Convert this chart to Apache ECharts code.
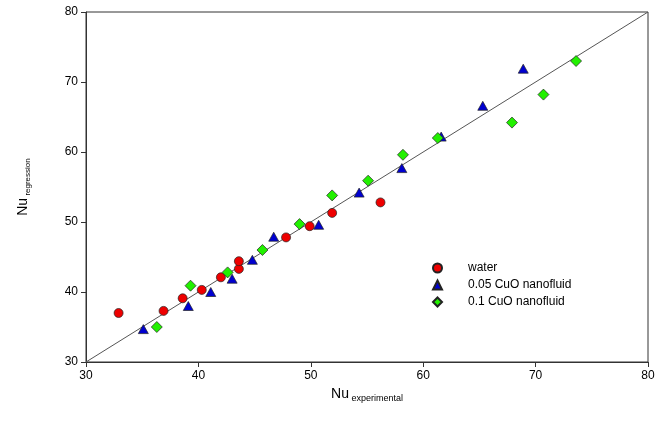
<!DOCTYPE html>
<html><head><meta charset="utf-8">
<script src="https://cdn.jsdelivr.net/npm/echarts@6/dist/echarts.min.js"></script>
<style>html,body{margin:0;padding:0;background:#fff}#c{width:664px;height:425px}</style>
</head><body><div id="c"></div>
<script>
var seriesNames = ['water', '0.05 CuO nanofluid', '0.1 CuO nanofluid'];
var waterData = [[32.9,37.0],[36.9,37.3],[38.6,39.1],[40.3,40.3],[42.0,42.1],[43.6,43.3],[43.6,44.4],[47.8,47.8],[49.9,49.4],[51.9,51.3],[56.2,52.8]];
var cuo005Data = [[35.1,34.7],[39.1,38.0],[41.1,40.0],[43.0,41.9],[44.8,44.6],[46.7,47.9],[50.7,49.6],[54.3,54.2],[58.1,57.7],[61.6,62.2],[65.3,66.6],[68.9,71.9]];
var cuo01Data = [[36.3,35.0],[39.3,40.9],[42.6,42.8],[45.7,46.0],[49.0,49.7],[51.9,53.8],[55.1,55.9],[58.2,59.6],[61.3,62.0],[67.9,64.2],[70.7,68.2],[73.6,73.0]];
var refLine = [[30,30],[80,80]];
var axisMin = 30, axisMax = 80, axisStep = 10;

var chart = echarts.init(document.getElementById('c'));
var font = 'Liberation Sans, Arial, sans-serif';
var axisCommon = {
  min: axisMin, max: axisMax, interval: axisStep,
  nameLocation: 'middle',
  axisLine: {show: true, lineStyle: {color: '#333', width: 1}},
  axisTick: {show: true, inside: false, length: 5, lineStyle: {color: '#333'}},
  axisLabel: {color: '#000', fontSize: 12, fontFamily: font},
  splitLine: {show: false}
};
chart.setOption({
  animation: false,
  backgroundColor: '#fff',
  grid: {left: 86, right: 16, top: 12, bottom: 63, show: true, borderColor: '#333', borderWidth: 1},
  legend: {
    orient: 'vertical', left: 427, top: 257, itemGap: 5, itemWidth: 9, itemHeight: 9,
    textStyle: {fontSize: 12, fontFamily: font, color: '#000', padding: [0,0,0,21]},
    data: seriesNames
  },
  xAxis: Object.assign({}, axisCommon, {
    type: 'value', nameGap: 20,
    name: '{a|Nu}{b| experimental}',
    nameTextStyle: {rich: {
      a: {fontSize: 14, fontFamily: font, color: '#000', lineHeight: 18},
      b: {fontSize: 9, fontFamily: font, color: '#000', padding: [10,0,0,0]}
    }}
  }),
  yAxis: Object.assign({}, axisCommon, {
    type: 'value', nameGap: 54,
    name: '{a|Nu}{b| regression}',
    nameTextStyle: {rich: {
      a: {fontSize: 14, fontFamily: font, color: '#000', lineHeight: 18},
      b: {fontSize: 8, fontFamily: font, color: '#000', padding: [10,0,0,0]}
    }}
  }),
  series: [
    {type: 'line', data: refLine, showSymbol: false, symbol: 'none', silent: true,
     lineStyle: {color: '#555', width: 1}, z: 1},
    {name: seriesNames[0], type: 'scatter', data: waterData, symbol: 'circle', symbolSize: 9,
     itemStyle: {color: '#ee0000', borderColor: '#222', borderWidth: 0.7, opacity: 1}, z: 3},
    {name: seriesNames[1], type: 'scatter', data: cuo005Data, symbol: 'triangle', symbolSize: [10,9],
     itemStyle: {color: '#0000d0', borderColor: '#222', borderWidth: 0.7, opacity: 1}, z: 3},
    {name: seriesNames[2], type: 'scatter', data: cuo01Data, symbol: 'diamond', symbolSize: 11,
     itemStyle: {color: '#22f000', borderColor: '#222', borderWidth: 0.7, opacity: 1}, z: 3}
  ]
});
</script></body></html>
